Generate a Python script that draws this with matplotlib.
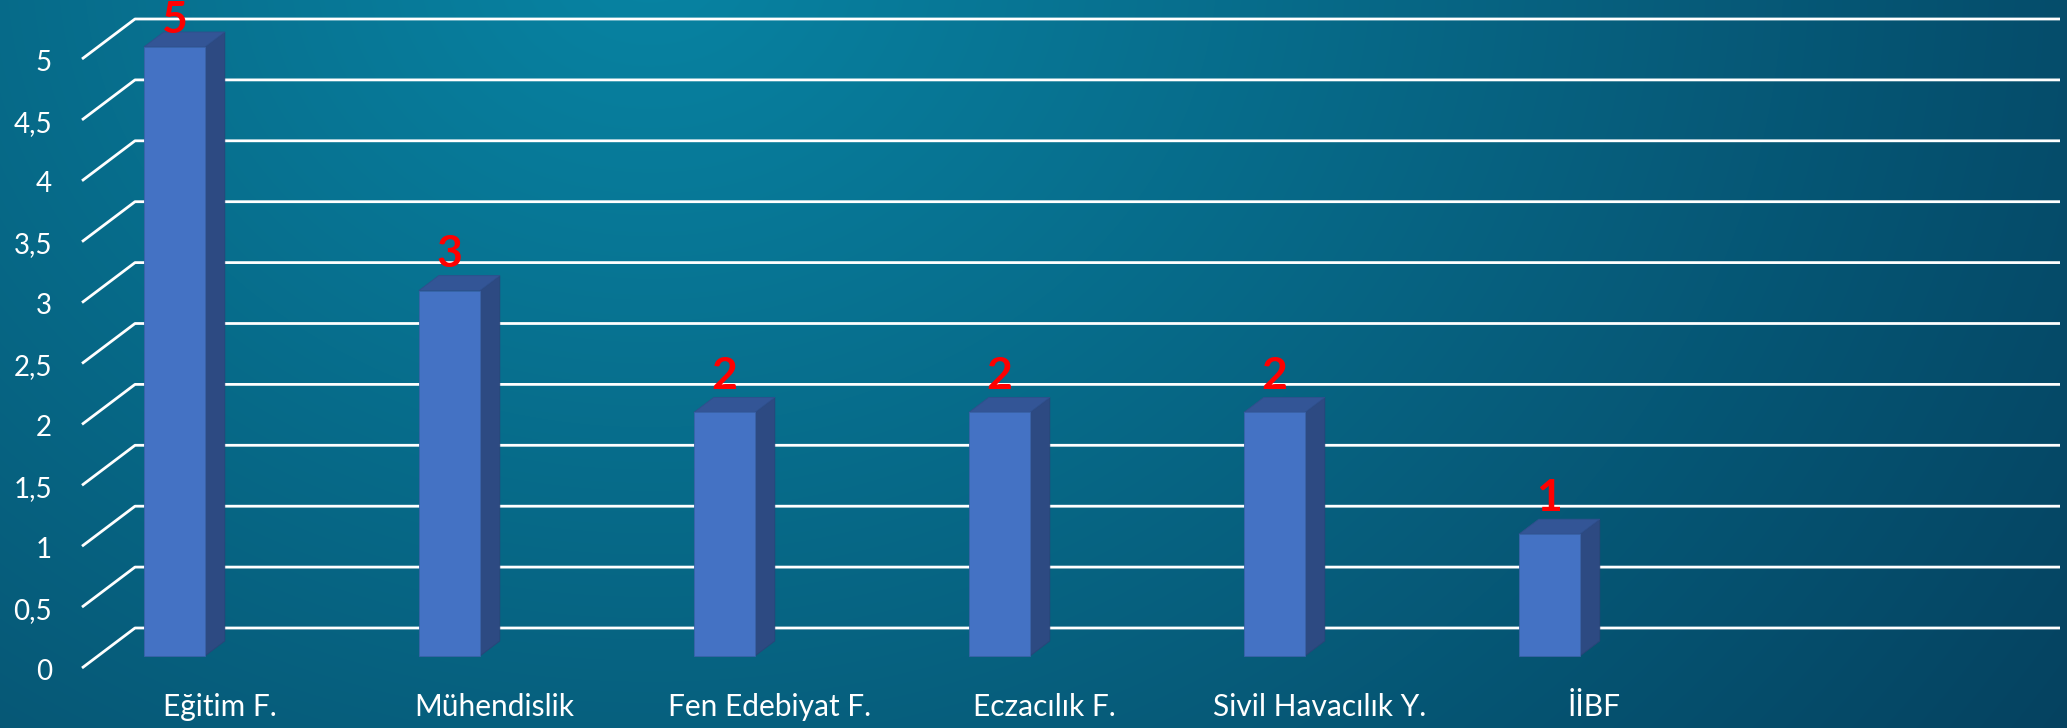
import numpy as np
import matplotlib
matplotlib.use("Agg")
import matplotlib.pyplot as plt
from matplotlib.patches import Polygon

# data
categories = ["Eğitim F.", "Mühendislik", "Fen Edebiyat F.", "Eczacılık F.", "Sivil Havacılık Y.", "İİBF"]
values = [5, 3, 2, 2, 2, 1]
yticks = [0, 0.5, 1, 1.5, 2, 2.5, 3, 3.5, 4, 4.5, 5]
ytick_labels = ["0", "0,5", "1", "1,5", "2", "2,5", "3", "3,5", "4", "4,5", "5"]
n_slots = 7

plt.rcParams['font.family'] = ['Lato', 'DejaVu Sans']

W, H = 2067, 728
fig = plt.figure(figsize=(W / 100, H / 100), dpi=100)

# background gradient
bg = fig.add_axes([0, 0, 1, 1])
yy, xx = np.mgrid[0:H, 0:W]
t = np.clip(np.sqrt(((xx - 650) / 1700.0) ** 2 + ((yy + 40) / 1400.0) ** 2), 0, 1)
light = np.array([8, 132, 163]) / 255.0
dark = np.array([5, 66, 96]) / 255.0
img = light[None, None, :] * (1 - t[..., None]) + dark[None, None, :] * t[..., None]
bg.imshow(img, aspect='auto', extent=[0, W, H, 0])
bg.axis('off')

ax = fig.add_axes([0, 0, 1, 1])
ax.patch.set_alpha(0)
ax.axis('off')
ax.set_xlim(-82 / 275, (W - 82) / 275)
ax.set_ylim(-(H - 668) / 121.8, 668 / 121.8)

# oblique depth of the floor
dx, dy = 53 / 275, 40 / 121.8

# gridlines: left wall diagonal + back wall horizontal
for v in yticks:
    ax.plot([0, dx, n_slots + dx], [v, v + dy, v + dy], color='white', lw=2, zorder=1,
            solid_capstyle='butt')

for v, lab in zip(yticks, ytick_labels):
    ax.text(-0.109, v - 0.03, lab, ha='right', va='center', color='white', fontsize=20)

# bars (3D look)
f0, f1 = 0.3, 0.675
bw = 0.222
ddx, ddy = (f1 - f0) * dx, (f1 - f0) * dy
front_col, side_col, top_col = '#4472C4', '#2D4A82', '#335596'
for i, (cat, val) in enumerate(zip(categories, values)):
    x0 = i + 0.225
    y0 = f0 * dy
    y1 = y0 + val
    front = Polygon([[x0, y0], [x0 + bw, y0], [x0 + bw, y1], [x0, y1]], closed=True,
                    facecolor=front_col, edgecolor='#3A62A8', lw=0.6, zorder=3)
    side = Polygon([[x0 + bw, y0], [x0 + bw + ddx, y0 + ddy], [x0 + bw + ddx, y1 + ddy], [x0 + bw, y1]],
                   closed=True, facecolor=side_col, edgecolor='#2A4478', lw=0.6, zorder=3)
    top = Polygon([[x0, y1], [x0 + bw, y1], [x0 + bw + ddx, y1 + ddy], [x0 + ddx, y1 + ddy]],
                  closed=True, facecolor=top_col, edgecolor='#2F4F8C', lw=0.6, zorder=3)
    for p in (side, top, front):
        ax.add_patch(p)
    ly = min(y1 + 0.30, 5.32)
    ax.text(x0 + bw / 2, ly, str(val), ha='center', va='center', color='#FF0000',
            fontsize=32, fontweight='bold', zorder=5)
    ax.text(i + 0.5, -0.32, cat, ha='center', va='center', color='white', fontsize=21.5)

fig.savefig("out.png", dpi=100)
